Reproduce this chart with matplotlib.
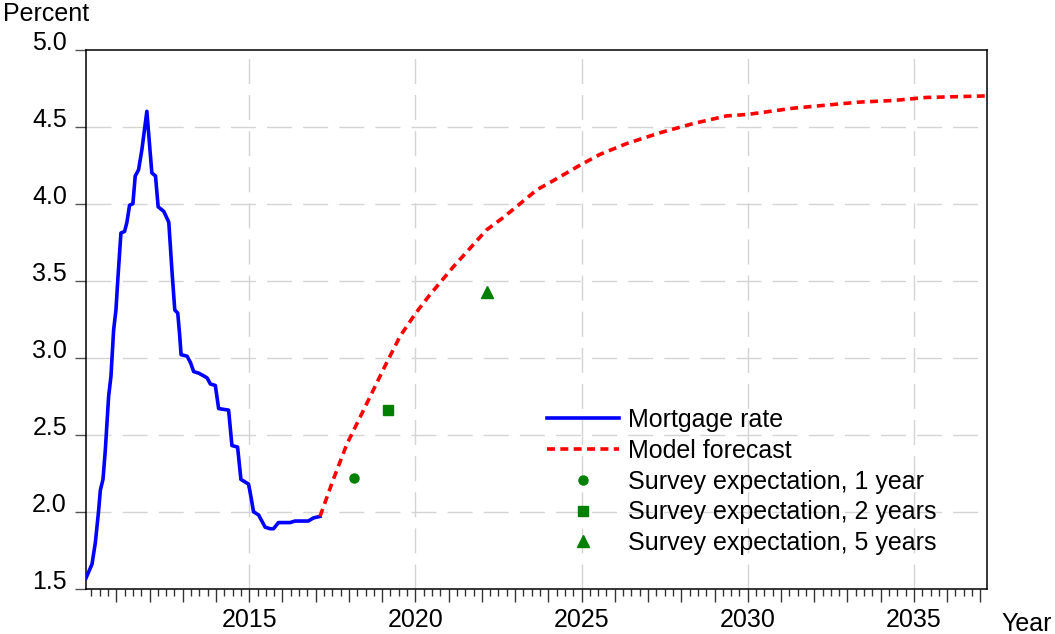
import matplotlib
matplotlib.use("Agg")
import matplotlib.pyplot as plt
from matplotlib.ticker import FixedLocator, FuncFormatter

plt.rcParams['font.family'] = ['Liberation Sans', 'DejaVu Sans']

# ---- data ----
mort_t = [2010.09, 2010.27, 2010.37, 2010.47, 2010.52, 2010.60, 2010.67, 2010.77, 2010.84,
          2010.92, 2010.99, 2011.05, 2011.14, 2011.25, 2011.32, 2011.40, 2011.50, 2011.57,
          2011.67, 2011.77, 2011.92, 2012.07, 2012.18, 2012.26, 2012.43, 2012.58, 2012.68,
          2012.76, 2012.85, 2012.91, 2012.95, 2013.13, 2013.23, 2013.33, 2013.48, 2013.73,
          2013.83, 2013.98, 2014.08, 2014.38, 2014.48, 2014.65, 2014.75, 2014.98, 2015.05,
          2015.13, 2015.28, 2015.38, 2015.48, 2015.63, 2015.73, 2015.88, 2016.03, 2016.23,
          2016.38, 2016.78, 2016.93, 2017.13]
mort_v = [1.57, 1.66, 1.80, 2.01, 2.14, 2.21, 2.40, 2.75, 2.88,
          3.18, 3.31, 3.52, 3.81, 3.82, 3.88, 3.99, 4.00, 4.18,
          4.22, 4.35, 4.60, 4.20, 4.18, 3.98, 3.95, 3.88, 3.55,
          3.31, 3.29, 3.14, 3.02, 3.01, 2.97, 2.91, 2.90, 2.87,
          2.83, 2.82, 2.67, 2.66, 2.43, 2.42, 2.21, 2.18, 2.10,
          2.00, 1.98, 1.94, 1.90, 1.89, 1.89, 1.93, 1.93, 1.93,
          1.94, 1.94, 1.96, 1.97]

fc_t = [2017.13, 2017.53, 2017.94, 2018.44, 2019.14, 2019.54, 2020.01, 2020.44, 2021.14,
        2021.64, 2022.14, 2022.64, 2023.15, 2023.65, 2024.15, 2024.95, 2025.55, 2026.35,
        2027.35, 2028.35, 2029.36, 2030.01, 2031.36, 2032.36, 2033.37, 2034.37, 2035.37,
        2037.19]
fc_v = [1.97, 2.21, 2.44, 2.66, 2.97, 3.14, 3.29, 3.41, 3.59,
        3.71, 3.83, 3.91, 4.00, 4.09, 4.15, 4.25, 4.32, 4.39,
        4.46, 4.52, 4.57, 4.58, 4.62, 4.64, 4.66, 4.67, 4.69,
        4.70]

survey_t = [2018.14, 2019.17, 2022.15]
survey_v = [2.22, 2.66, 3.43]

labels = ["Mortgage rate", "Model forecast", "Survey expectation, 1 year",
          "Survey expectation, 2 years", "Survey expectation, 5 years"]
y_ticks = [1.5, 2.0, 2.5, 3.0, 3.5, 4.0, 4.5, 5.0]
x_grid_years = [2015, 2020, 2025, 2030, 2035]

# ---- figure ----
W, H = 1055, 634
fig = plt.figure(figsize=(W / 100, H / 100), dpi=100)
ax = fig.add_axes([85.7 / W, 1 - 588.8 / H, (986.7 - 85.7) / W, (588.8 - 49.7) / H])

FS = 18
grid_kw = dict(color='#d4d4d4', lw=1.0, linestyle=(0, (18, 8)), zorder=0)
for yv in y_ticks[1:-1]:
    ax.axhline(yv, **grid_kw)
for xv in x_grid_years:
    ax.axvline(xv, **grid_kw)

green = '#008000'
ax.plot(mort_t, mort_v, color='#0000ff', lw=2.6, label=labels[0], zorder=3)
ax.plot(fc_t, fc_v, color='#ff0000', lw=2.6, linestyle=(0, (2.2, 1.5)), label=labels[1], zorder=3)
ax.plot([survey_t[0]], [survey_v[0]], 'o', color=green, ms=6.5, label=labels[2], zorder=4)
ax.plot([survey_t[1]], [survey_v[1]], 's', color=green, ms=7, label=labels[3], zorder=4)
ax.plot([survey_t[2]], [survey_v[2]], '^', color=green, ms=8, label=labels[4], zorder=4)

ax.set_xlim(2010.08, 2037.19)
ax.set_ylim(1.5, 5.0)

ax.yaxis.set_major_locator(FixedLocator(y_ticks))
ax.yaxis.set_major_formatter(FuncFormatter(lambda v, p: f"{v:.1f}"))
years = list(range(2011, 2038))
ax.xaxis.set_major_locator(FixedLocator(years))
ax.xaxis.set_major_formatter(FuncFormatter(lambda v, p: str(int(round(v))) if int(round(v)) % 5 == 0 else ""))
quarters = [y + q for y in range(2010, 2038) for q in (0.25, 0.5, 0.75) if 2010.08 <= y + q <= 2037.19]
ax.xaxis.set_minor_locator(FixedLocator(quarters))

ax.tick_params(axis='x', which='major', direction='out', length=9.5, width=1.0, labelsize=FS, pad=4, color='#333333')
ax.tick_params(axis='x', which='minor', direction='out', length=4.8, width=1.0, color='#333333')
ax.tick_params(axis='y', which='major', direction='out', length=8, width=1.0, labelsize=FS, pad=5.5, color='#555555')
for t in ax.get_yticklabels():
    t.set_va('baseline')

for s in ax.spines.values():
    s.set_linewidth(1.1)
    s.set_color('black')

fig.text(3 / W, 1 - 20.7 / H, "Percent", fontsize=FS, ha='left', va='baseline')
fig.text(1001 / W, 1 - 631 / H, "Year", fontsize=FS, ha='left', va='baseline')

leg = ax.legend(loc='upper left', bbox_to_anchor=(546.7 / W, 1 - 408 / H),
                bbox_transform=fig.transFigure, frameon=False, fontsize=FS,
                handlelength=2.9, handletextpad=0.36, labelspacing=0.27,
                borderpad=0, borderaxespad=0, numpoints=1)

fig.savefig("out.png", dpi=100)
